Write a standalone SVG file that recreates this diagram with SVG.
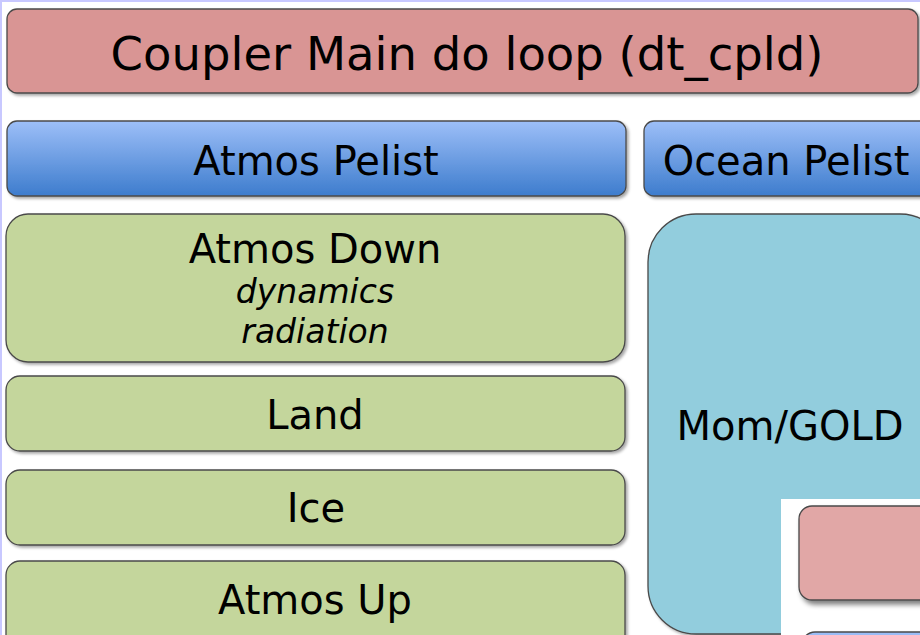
<svg xmlns="http://www.w3.org/2000/svg" width="920" height="635" viewBox="0 0 920 635">
<defs>
<linearGradient id="blueGrad" x1="0" y1="0" x2="0" y2="1">
<stop offset="0" stop-color="#9dbff8"/>
<stop offset="1" stop-color="#3d7ccd"/>
</linearGradient>
<filter id="shadow" x="-10%" y="-10%" width="130%" height="140%">
<feGaussianBlur in="SourceAlpha" stdDeviation="1.5"/>
<feOffset dx="2" dy="2" result="b"/>
<feComponentTransfer><feFuncA type="linear" slope="0.35"/></feComponentTransfer>
<feMerge><feMergeNode/><feMergeNode in="SourceGraphic"/></feMerge>
</filter>
<filter id="shadow2" x="-10%" y="-10%" width="130%" height="140%">
<feGaussianBlur in="SourceAlpha" stdDeviation="2.5"/>
<feOffset dx="3" dy="4" result="b"/>
<feComponentTransfer><feFuncA type="linear" slope="0.5"/></feComponentTransfer>
<feMerge><feMergeNode/><feMergeNode in="SourceGraphic"/></feMerge>
</filter>
</defs>
<style>
.box { stroke: #4a4a4a; stroke-width: 1.3; }
.red { fill: #d99594; }
.blue { fill: url(#blueGrad); }
.green { fill: #c4d69c; }
.cyan { fill: #92cddd; }
.pink { fill: #e1a7a6; }
text { font-family: "DejaVu Sans", sans-serif; fill: #000; text-anchor: middle; }
.big { font-size: 46.5px; }
.mid { font-size: 40px; }
.it { font-size: 33px; font-style: italic; }
</style>
<rect x="0" y="0" width="920" height="635" fill="#ffffff"/>
<rect x="0" y="0" width="920" height="2" fill="#c8c8ff"/>
<rect x="0" y="0" width="2" height="635" fill="#c8c8ff"/>

<g id="coupler">
<rect class="box red" x="7" y="9" width="911" height="84" rx="10" filter="url(#shadow)"/>
<text class="big" x="467" y="70">Coupler Main do loop (dt_cpld)</text>
</g>

<g id="atmos-pelist">
<rect class="box blue" x="7" y="121" width="619" height="75" rx="10" filter="url(#shadow)"/>
<text class="mid" x="316" y="175">Atmos Pelist</text>
</g>

<g id="ocean-pelist">
<rect class="box blue" x="644" y="121" width="290" height="75" rx="10" filter="url(#shadow)"/>
<text class="mid" x="786" y="175">Ocean Pelist</text>
</g>

<g id="atmos-down">
<rect class="box green" x="6" y="214" width="619" height="148" rx="22" filter="url(#shadow)"/>
<text class="mid" x="315" y="263">Atmos Down</text>
<text class="it" x="315" y="303">dynamics</text>
<text class="it" x="315" y="343">radiation</text>
</g>

<g id="land">
<rect class="box green" x="6" y="376" width="619" height="75" rx="14" filter="url(#shadow)"/>
<text class="mid" x="315" y="429">Land</text>
</g>

<g id="ice">
<rect class="box green" x="6" y="470" width="619" height="75" rx="14" filter="url(#shadow)"/>
<text class="mid" x="316" y="522">Ice</text>
</g>

<g id="atmos-up">
<rect class="box green" x="6" y="561" width="619" height="90" rx="14" filter="url(#shadow)"/>
<text class="mid" x="315" y="614">Atmos Up</text>
</g>

<g id="mom-gold">
<rect class="box cyan" x="648" y="214" width="300" height="420" rx="48" filter="url(#shadow)"/>
<text class="mid" x="790" y="440">Mom/GOLD</text>
</g>

<g id="inset">
<rect x="781" y="499" width="145" height="140" fill="#ffffff"/>
<rect class="box pink" x="799" y="506" width="140" height="94" rx="13" filter="url(#shadow2)"/>
<rect class="box blue" x="802" y="632" width="140" height="60" rx="13" filter="url(#shadow2)"/>
</g>

<g id="connectors"></g>
</svg>
